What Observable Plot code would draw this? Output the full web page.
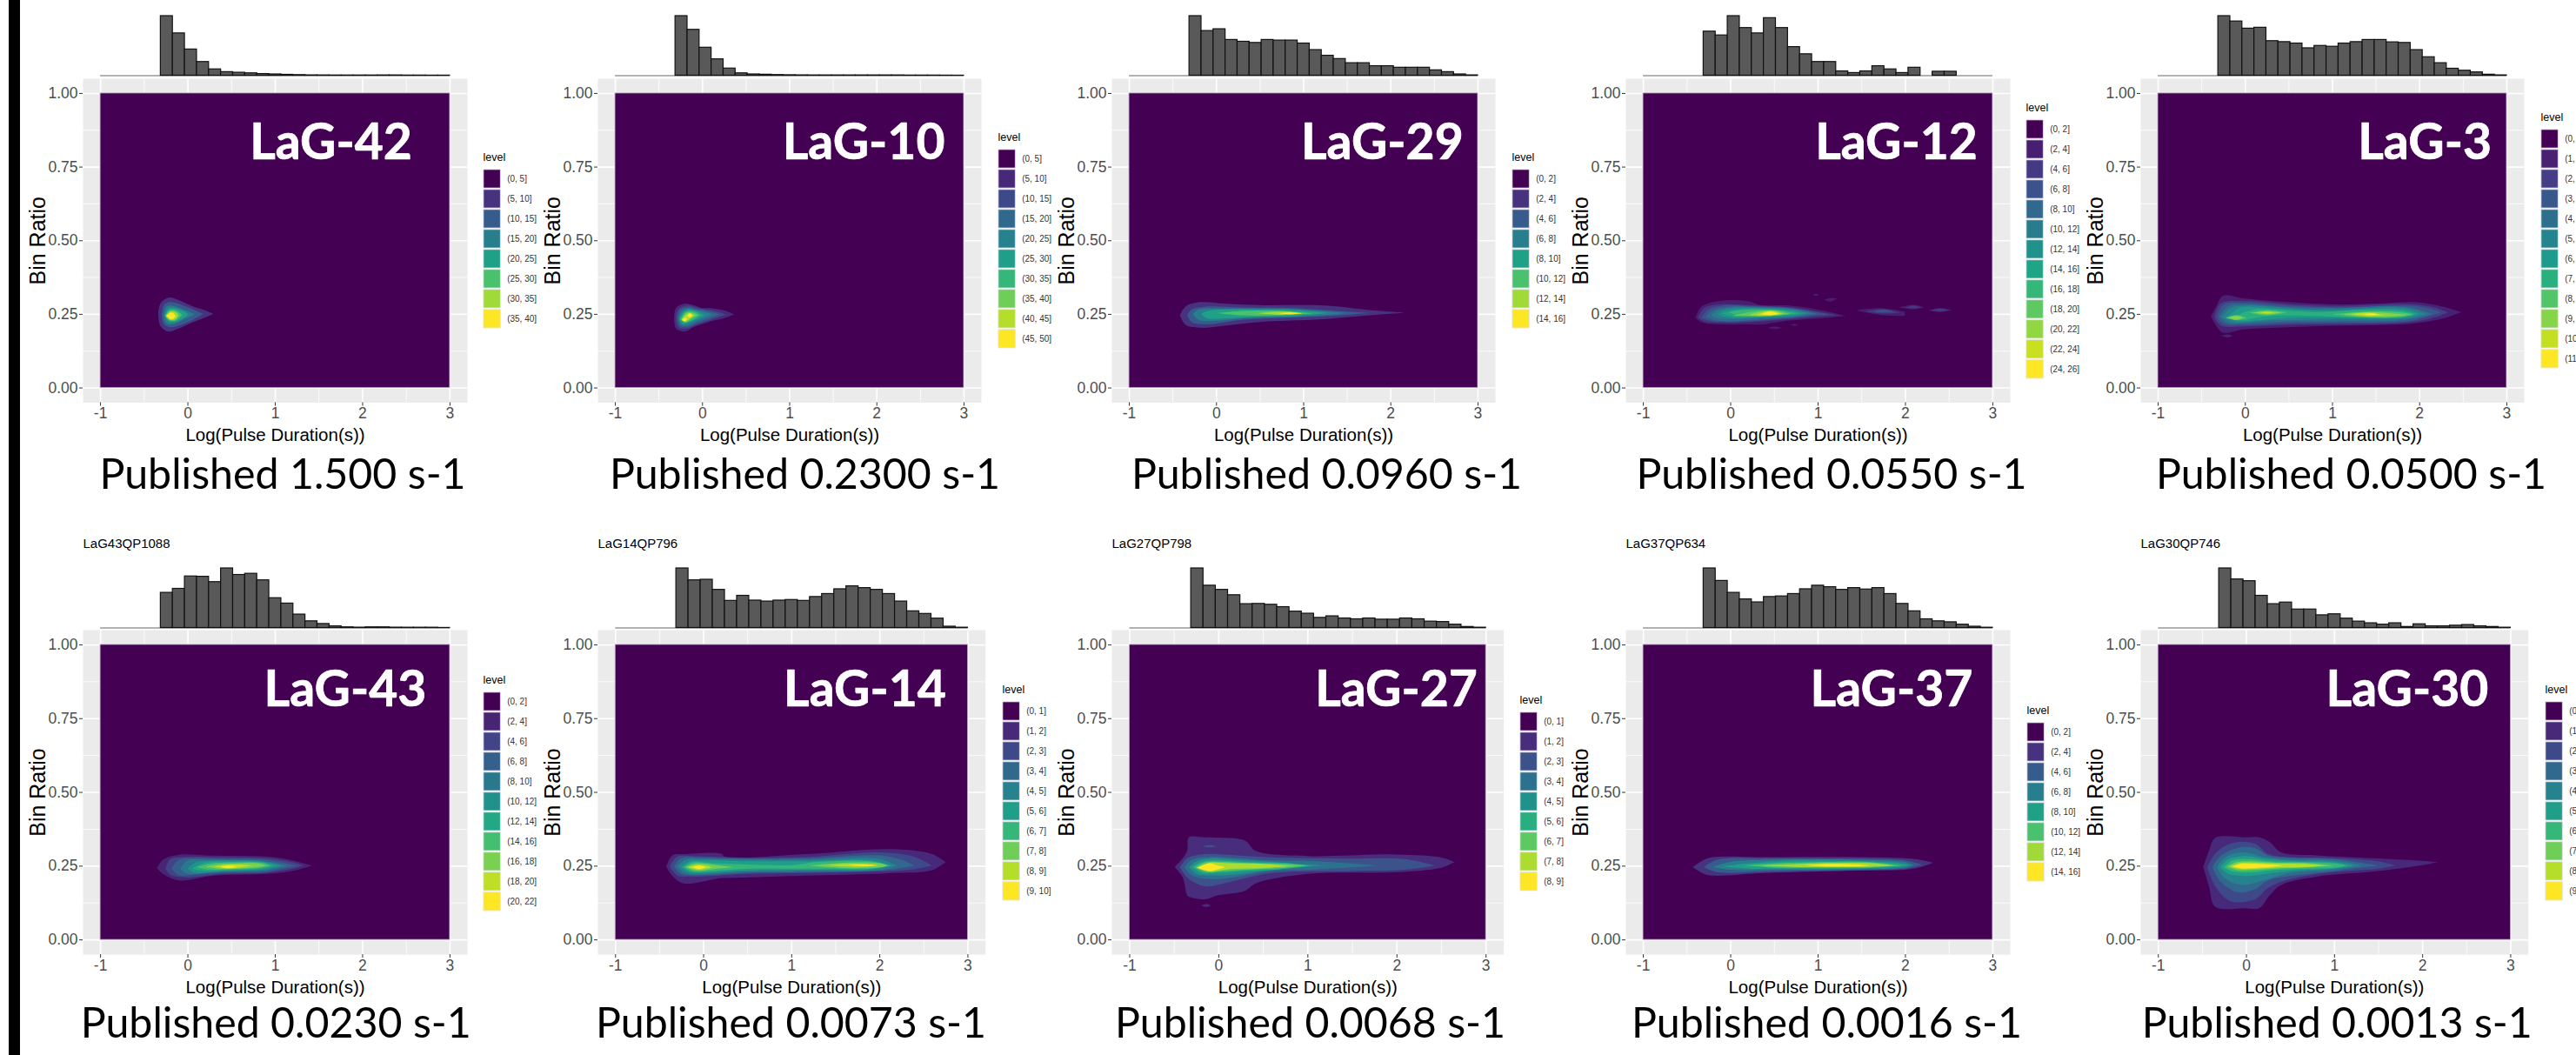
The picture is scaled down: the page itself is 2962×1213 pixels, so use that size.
<!DOCTYPE html>
<html>
<head>
<meta charset="utf-8">
<script src="https://cdn.jsdelivr.net/npm/d3@7"></script>
<script src="https://cdn.jsdelivr.net/npm/@observablehq/plot@0.6"></script>
<style>
html,body{margin:0;padding:0;background:#fff;overflow:hidden}
#stage{position:relative;width:2962px;height:1213px;overflow:hidden;background:#fff}
#bar{position:absolute;left:10px;top:0;width:12.5px;height:1213px;background:#000}
.box{position:absolute}
</style>
</head>
<body>
<div id="stage"><div id="bar"></div></div>
<script>
// ---------- values ----------
const names = ["LaG-42","LaG-10","LaG-29","LaG-12","LaG-3","LaG-43","LaG-14","LaG-27","LaG-37","LaG-30"];
const published = ["Published 1.500 s-1","Published 0.2300 s-1","Published 0.0960 s-1","Published 0.0550 s-1","Published 0.0500 s-1",
  "Published 0.0230 s-1","Published 0.0073 s-1","Published 0.0068 s-1","Published 0.0016 s-1","Published 0.0013 s-1"];
const sampleIds = [null,null,null,null,null,"LaG43QP1088","LaG14QP796","LaG27QP798","LaG37QP634","LaG30QP746"];
const levelStep = [5,5,2,2,1,2,1,1,2,1];
const levelCount = [8,10,8,13,12,11,10,9,8,10];
const xMajor = [-1,0,1,2,3];
const xMinor = [-0.5,0.5,1.5,2.5];
const yMajor = [0,0.25,0.5,0.75,1];
const yMinor = [0.125,0.375,0.625,0.875];

// relative bar height of the marginal histograms, first bar begins at the sixth of 29 bins
const hist42 = [100,71,44,23,10.6,6,5,4,2.8,2.2,1.5,1,.6,.5,.4,.4,.4,.4,.5,.5,.3,.3,.2,.2];
const hist10 = [100,77,47,27.5,12,4,2.2,1.7,1.1,.8,.6,.5,.5,.5,.5,.5,.5,.5,.5,.3,.3,.3,.2,.1];
const hist29 = [100,75,78,60,57,55,60,59,59,54,43,33.5,28,21,21,16,16,13.4,13.4,13.4,9,6,2.2,.6];
const hist12 = [74,67.6,100,80,71,96.6,80,48,36,23,23,7.3,4.5,7.3,16,10.6,4.5,13.4,0,6.7,6.7,0,0,0];
const hist3  = [100,91,79,80.5,58,56.4,54,46,50,48.6,54,56.4,60,60,56,55,43,31,21,11.7,8.4,5.6,1.7,.6];
const hist43 = [59,65.7,86.5,86,77,100,89,91,80,50,41,22.5,11.2,6.7,2.8,1.1,.6,1.1,1.1,.6,.5,.5,.5,.1];
const hist14 = [100,80,81,64,45.5,54,46,44.4,46,47,45.5,52,57,65,70,67,64,57,44.4,28,23.6,15.7,2.2,.5];
const hist27 = [100,71,64,55,40,40.4,39,35,27.5,24,17,19.6,16,14.6,16,14,14,16,14.6,10.7,10,5.6,1.7,.5];
const hist37 = [100,79,59,48,43,52,53,57,65,71,68.5,64,67,64.6,67,57,40.4,28,14.6,11.2,9.6,5.6,2.2,.5];
const hist30 = [100,81.5,78.6,54,40,42.7,31,31,21.3,23,15.7,10.7,7.9,5.6,7.9,1.7,6.2,2.8,2.8,3.9,5,2.8,1.7,.5];

// density level outlines: [level band, [[x, lower ratio, upper ratio], ...]]
const density42 = [
 [1,[[-.335,.25,.25],[-.31,.21,.285],[-.22,.19,.305],[-.1,.2,.297],[.05,.22,.277],[.2,.238,.262],[.295,.25,.25]]],
 [2,[[-.294,.245,.245],[-.27,.215,.28],[-.2,.205,.29],[-.08,.212,.282],[.06,.23,.265],[.18,.25,.25]]],
 [3,[[-.274,.245,.245],[-.24,.218,.274],[-.17,.215,.277],[-.05,.23,.265],[.08,.248,.248]]],
 [4,[[-.26,.245,.245],[-.22,.225,.267],[-.15,.222,.27],[-.05,.235,.26],[.007,.248,.248]]],
 [5,[[-.254,.243,.243],[-.21,.228,.262],[-.14,.227,.263],[-.06,.247,.247]]],
 [6,[[-.248,.243,.243],[-.2,.23,.258],[-.14,.231,.257],[-.1,.245,.245]]],
 [7,[[-.24,.243,.243],[-.19,.232,.255],[-.16,.234,.252],[-.135,.243,.243]]]];
const density10 = [
 [1,[[-.32,.235,.235],[-.3,.2,.27],[-.2,.19,.285],[-.1,.205,.28],[0,.215,.27],[.1,.225,.27],[.25,.235,.262],[.37,.248,.248]]],
 [2,[[-.3,.235,.235],[-.27,.205,.265],[-.18,.2,.278],[-.05,.215,.27],[.1,.23,.263],[.28,.248,.248]]],
 [3,[[-.28,.235,.235],[-.25,.21,.262],[-.17,.207,.272],[-.05,.222,.265],[.08,.235,.258],[.2,.248,.248]]],
 [4,[[-.27,.235,.235],[-.23,.213,.258],[-.16,.213,.268],[-.05,.228,.262],[.05,.24,.255],[.12,.248,.248]]],
 [5,[[-.26,.232,.232],[-.22,.216,.255],[-.15,.222,.265],[-.05,.234,.258],[.03,.246,.246]]],
 [6,[[-.25,.232,.232],[-.2,.22,.255],[-.13,.226,.26],[-.06,.237,.255],[-.02,.245,.245]]],
 [7,[[-.24,.23,.23],[-.19,.222,.252],[-.13,.232,.256],[-.07,.242,.25],[-.05,.245,.245]]],
 [8,[[-.23,.228,.228],[-.19,.225,.245],[-.14,.235,.253],[-.09,.245,.245]]],
 [9,[[-.23,.23,.23],[-.2,.225,.237],[-.17,.232,.232]]],
 [9,[[-.17,.243,.243],[-.14,.238,.252],[-.11,.245,.245]]]];
const density29 = [
 [1,[[-.415,.245,.245],[-.35,.213,.275],[-.18,.203,.29],[.1,.21,.285],[.47,.222,.28],[1.28,.233,.278],[1.77,.245,.263],[2.175,.254,.254]]],
 [2,[[-.33,.245,.245],[-.28,.222,.265],[-.1,.215,.275],[.3,.23,.272],[.9,.238,.27],[1.3,.243,.262],[1.75,.253,.253]]],
 [3,[[-.265,.248,.248],[-.2,.23,.265],[0,.227,.268],[.4,.237,.268],[.9,.24,.266],[1.2,.245,.26],[1.48,.253,.253]]],
 [4,[[-.17,.25,.25],[-.1,.235,.26],[.1,.235,.265],[.5,.24,.265],[.9,.243,.263],[1.28,.253,.253]]],
 [5,[[.02,.253,.253],[.3,.245,.26],[.7,.245,.261],[1.12,.252,.252]]],
 [6,[[.47,.252,.252],[.7,.247,.258],[.85,.248,.257],[1.0,.252,.252]]],
 [7,[[.72,.252,.252],[.85,.249,.255],[.98,.252,.252]]]];
const density12 = [
 [1,[[-.4,.237,.237],[-.33,.222,.275],[-.1,.214,.295],[.2,.214,.293],[.35,.214,.28],[.7,.228,.278],[1.05,.235,.262],[1.32,.243,.243]]],
 [1,[[1.44,.262,.262],[1.7,.247,.27],[2.0,.243,.258]]],
 [1,[[1.93,.272,.272],[2.1,.266,.281],[2.22,.272,.272]]],
 [1,[[2.26,.262,.262],[2.4,.256,.27],[2.54,.263,.263]]],
 [1,[[.94,.315,.315],[.98,.312,.319],[1.02,.315,.315]]],
 [1,[[1.08,.298,.298],[1.15,.292,.304],[1.22,.302,.302]]],
 [1,[[.43,.203,.203],[.51,.199,.207],[.59,.203,.203]]],
 [1,[[.69,.213,.213],[.73,.21,.216],[.78,.213,.213]]],
 [2,[[1.55,.258,.258],[1.75,.251,.267],[1.95,.254,.254]]],
 [2,[[2.0,.272,.272],[2.1,.269,.278],[2.18,.272,.272]]],
 [2,[[2.3,.263,.263],[2.4,.259,.268],[2.5,.263,.263]]],
 [3,[[1.63,.258,.258],[1.75,.255,.264],[1.88,.257,.257]]],
 [2,[[-.37,.237,.237],[-.3,.225,.27],[-.1,.22,.283],[.2,.222,.28],[.7,.232,.272],[1.0,.24,.258],[1.25,.245,.245]]],
 [3,[[-.33,.237,.237],[-.25,.228,.265],[-.05,.222,.28],[.2,.225,.277],[.7,.236,.27],[1.0,.245,.256],[1.15,.248,.248]]],
 [4,[[-.28,.24,.24],[-.2,.23,.263],[0,.225,.275],[.3,.23,.274],[.7,.238,.268],[1.0,.25,.25]]],
 [5,[[-.22,.245,.245],[-.15,.235,.262],[0,.232,.272],[.3,.235,.272],[.7,.24,.266],[.95,.252,.252]]],
 [6,[[-.15,.25,.25],[-.08,.24,.262],[.05,.236,.268],[.3,.237,.27],[.7,.243,.263],[.88,.252,.252]]],
 [7,[[-.1,.252,.252],[.05,.24,.264],[.3,.24,.267],[.6,.245,.263],[.82,.252,.252]]],
 [8,[[-.02,.255,.255],[.1,.245,.262],[.3,.24,.265],[.55,.245,.262],[.75,.252,.252]]],
 [9,[[.02,.243,.243],[.25,.243,.258],[.5,.244,.262],[.68,.25,.25]]],
 [10,[[.2,.245,.245],[.35,.243,.258],[.5,.246,.26],[.62,.25,.25]]],
 [11,[[.3,.247,.247],[.42,.245,.258],[.5,.247,.258],[.58,.25,.25]]],
 [12,[[.36,.25,.25],[.44,.246,.257],[.5,.247,.256],[.55,.25,.25]]]];
const density3 = [
 [1,[[-.27,.175,.175],[-.2,.17,.18],[-.14,.175,.175]]],
 [1,[[-.39,.242,.242],[-.33,.21,.275],[-.25,.186,.312],[0,.198,.302],[.5,.205,.29],[1.05,.21,.282],[1.5,.212,.285],[1.95,.218,.29],[2.28,.235,.274],[2.48,.256,.256]]],
 [2,[[-.35,.24,.24],[-.28,.21,.285],[0,.208,.295],[.5,.213,.283],[1.05,.215,.277],[1.9,.222,.283],[2.2,.24,.27],[2.33,.255,.255]]],
 [3,[[-.32,.24,.24],[-.25,.215,.28],[0,.213,.288],[.5,.218,.278],[1.05,.22,.272],[1.9,.226,.278],[2.12,.243,.268],[2.25,.255,.255]]],
 [4,[[-.29,.24,.24],[-.2,.218,.275],[0,.218,.283],[.5,.224,.273],[1.05,.225,.27],[1.85,.23,.274],[2.15,.25,.25]]],
 [5,[[-.26,.24,.24],[-.15,.222,.272],[0,.222,.278],[.3,.228,.275],[.7,.23,.265],[1.05,.232,.265],[1.85,.234,.27],[2.08,.25,.25]]],
 [6,[[-.2,.24,.24],[-.05,.225,.272],[.15,.228,.272],[.5,.236,.266],[1.0,.238,.26],[1.4,.236,.266],[1.85,.238,.264],[2.0,.25,.25]]],
 [7,[[-.15,.235,.235],[-.05,.228,.25],[.1,.235,.265],[.3,.243,.265],[.8,.243,.256],[1.3,.238,.263],[1.8,.24,.26],[1.95,.25,.25]]],
 [8,[[-.22,.237,.237],[-.1,.228,.246],[.02,.237,.237]]],
 [8,[[.05,.254,.254],[.25,.245,.262],[.48,.254,.254]]],
 [8,[[1.0,.249,.249],[1.4,.238,.258],[1.8,.24,.255],[1.93,.248,.248]]],
 [9,[[-.18,.237,.237],[-.1,.231,.243],[-.02,.237,.237]]],
 [9,[[.1,.254,.254],[.25,.249,.259],[.42,.254,.254]]],
 [9,[[1.12,.249,.249],[1.42,.241,.256],[1.7,.243,.251],[1.85,.247,.247]]],
 [10,[[.18,.254,.254],[.25,.251,.257],[.33,.254,.254]]],
 [10,[[1.22,.249,.249],[1.42,.243,.254],[1.6,.246,.246]]],
 [11,[[1.35,.248,.248],[1.45,.245,.252],[1.55,.248,.248]]]];
const density43 = [
 [1,[[-.35,.242,.242],[-.28,.222,.27],[-.1,.2,.287],[.3,.216,.284],[.9,.222,.281],[1.2,.232,.268],[1.43,.25,.25]]],
 [2,[[-.25,.24,.24],[-.2,.22,.272],[0,.21,.28],[.4,.222,.278],[.9,.226,.275],[1.2,.24,.262],[1.33,.25,.25]]],
 [3,[[-.18,.24,.24],[-.1,.218,.27],[.1,.22,.275],[.4,.226,.273],[.9,.23,.27],[1.25,.25,.25]]],
 [4,[[-.08,.24,.24],[0,.222,.268],[.2,.225,.27],[.5,.23,.27],[.9,.234,.265],[1.15,.25,.25]]],
 [5,[[0,.24,.24],[.1,.226,.262],[.3,.23,.267],[.7,.234,.267],[.9,.238,.262],[1.08,.25,.25]]],
 [6,[[.05,.24,.24],[.2,.232,.26],[.5,.235,.264],[.85,.24,.262],[1.0,.25,.25]]],
 [7,[[.1,.245,.245],[.25,.237,.257],[.5,.238,.261],[.85,.243,.26],[.95,.25,.25]]],
 [8,[[.2,.247,.247],[.35,.24,.255],[.55,.24,.258],[.8,.245,.258],[.9,.25,.25]]],
 [9,[[.3,.247,.247],[.45,.241,.253],[.6,.244,.254],[.75,.25,.25]]],
 [10,[[.38,.247,.247],[.48,.242,.25],[.56,.247,.247]]]];
const density14 = [
 [1,[[-.42,.247,.247],[-.35,.215,.285],[-.22,.19,.289],[.2,.208,.291],[.25,.208,.28],[1.16,.216,.289],[2.15,.225,.306],[2.6,.235,.289],[2.75,.262,.262]]],
 [2,[[-.38,.247,.247],[-.3,.218,.28],[-.1,.213,.282],[.5,.222,.277],[1.2,.225,.28],[2.0,.23,.295],[2.4,.238,.28],[2.6,.25,.25]]],
 [3,[[-.33,.247,.247],[-.25,.222,.275],[0,.218,.277],[.5,.226,.273],[1.2,.228,.275],[2.0,.233,.285],[2.25,.242,.27],[2.4,.25,.25]]],
 [4,[[-.29,.247,.247],[-.2,.225,.27],[0,.222,.272],[.5,.23,.27],[1.2,.232,.27],[2.0,.236,.273],[2.2,.25,.25]]],
 [5,[[-.25,.245,.245],[-.15,.228,.265],[.05,.227,.267],[.5,.234,.265],[1.2,.236,.265],[1.9,.238,.268],[2.15,.25,.25]]],
 [6,[[-.22,.245,.245],[-.12,.23,.262],[.1,.232,.258],[.5,.24,.254],[1.0,.24,.252],[1.3,.24,.263],[1.9,.24,.265],[2.12,.25,.25]]],
 [7,[[-.2,.245,.245],[-.08,.233,.258],[.15,.24,.252],[.35,.245,.245]]],
 [7,[[1.2,.25,.25],[1.6,.242,.26],[2.0,.244,.258],[2.1,.25,.25]]],
 [8,[[-.17,.245,.245],[-.05,.236,.254],[.1,.245,.245]]],
 [8,[[1.4,.252,.252],[1.75,.246,.257],[2.0,.25,.25]]],
 [9,[[-.12,.245,.245],[-.05,.239,.25],[.03,.245,.245]]],
 [9,[[1.65,.252,.252],[1.85,.249,.255],[1.97,.252,.252]]]];
const density27 = [
 [1,[[-.2,.115,.115],[-.13,.11,.12],[-.08,.115,.115]]],
 [1,[[-.49,.245,.245],[-.4,.21,.275],[-.35,.15,.3],[-.33,.145,.346],[-.15,.136,.346],[0,.15,.345],[.3,.165,.335],[.42,.19,.3],[1.0,.222,.283],[2.0,.228,.288],[2.5,.243,.278],[2.65,.262,.262]]],
 [2,[[-.18,.316,.316],[-.1,.312,.32],[-.02,.316,.316]]],
 [2,[[-.43,.245,.245],[-.35,.21,.275],[-.15,.18,.289],[.1,.193,.287],[.6,.225,.278],[1.5,.232,.274],[2.1,.236,.272],[2.43,.25,.25]]],
 [3,[[-.38,.245,.245],[-.3,.218,.27],[-.1,.205,.28],[.15,.21,.277],[.6,.232,.268],[1.1,.237,.265],[1.8,.25,.25]]],
 [4,[[-.33,.245,.245],[-.24,.222,.266],[-.05,.217,.275],[.2,.22,.27],[.6,.236,.263],[1.2,.25,.25]]],
 [5,[[-.29,.245,.245],[-.18,.226,.264],[0,.226,.268],[.3,.232,.263],[.7,.238,.26],[1.05,.25,.25]]],
 [6,[[-.26,.245,.245],[-.14,.229,.262],[.05,.232,.263],[.4,.238,.258],[.75,.243,.256],[1.0,.25,.25]]],
 [7,[[-.245,.243,.243],[-.1,.23,.26],[.1,.238,.258],[.5,.242,.256],[.8,.249,.249]]],
 [8,[[-.23,.243,.243],[-.1,.232,.258],[-.02,.237,.252],[.08,.245,.245]]]];
const density37 = [
 [1,[[-.43,.245,.245],[-.3,.222,.27],[-.2,.216,.279],[.4,.225,.279],[1.45,.233,.279],[2.1,.24,.273],[2.32,.26,.26]]],
 [2,[[-.3,.245,.245],[-.15,.228,.27],[.4,.23,.275],[1.4,.235,.274],[2.0,.24,.268],[2.2,.253,.253]]],
 [3,[[-.2,.245,.245],[0,.236,.263],[.5,.236,.27],[1.4,.238,.27],[2.0,.244,.262],[2.1,.252,.252]]],
 [4,[[-.1,.247,.247],[.2,.24,.258],[.6,.24,.266],[1.4,.24,.266],[1.9,.245,.26],[2.05,.252,.252]]],
 [5,[[.15,.25,.25],[.5,.244,.258],[1.0,.243,.262],[1.6,.244,.262],[1.97,.25,.25]]],
 [6,[[.3,.25,.25],[.7,.246,.255],[1.1,.245,.259],[1.6,.246,.259],[1.88,.25,.25]]],
 [7,[[.85,.251,.251],[1.15,.247,.256],[1.45,.248,.254],[1.6,.251,.251]]]];
const density30 = [
 [1,[[-.485,.245,.245],[-.42,.18,.3],[-.35,.111,.344],[0,.106,.346],[.15,.106,.346],[.27,.15,.33],[.4,.185,.295],[.8,.213,.285],[1.45,.23,.275],[1.97,.25,.267],[2.18,.262,.262]]],
 [2,[[-.44,.245,.245],[-.35,.18,.29],[-.18,.13,.325],[.1,.135,.325],[.25,.175,.29],[.45,.2,.28],[.9,.225,.277],[1.5,.24,.265],[1.7,.25,.25]]],
 [3,[[-.38,.245,.245],[-.3,.2,.28],[-.1,.16,.31],[.1,.17,.31],[.25,.2,.285],[.5,.215,.277],[1.0,.232,.272],[1.5,.25,.25]]],
 [4,[[-.33,.245,.245],[-.25,.21,.275],[-.05,.185,.295],[.2,.2,.28],[.5,.225,.27],[1.0,.237,.267],[1.32,.25,.25]]],
 [5,[[-.29,.245,.245],[-.2,.222,.272],[0,.215,.283],[.25,.223,.272],[.6,.235,.265],[1.0,.24,.262],[1.22,.25,.25]]],
 [6,[[-.25,.245,.245],[-.15,.23,.268],[.05,.227,.272],[.3,.235,.264],[.7,.24,.262],[1.0,.243,.258],[1.15,.25,.25]]],
 [7,[[-.22,.247,.247],[-.1,.235,.263],[.05,.235,.265],[.35,.24,.26],[.7,.244,.259],[1.0,.25,.25]]],
 [8,[[-.18,.247,.247],[-.08,.239,.259],[.1,.239,.26],[.4,.244,.257],[.65,.245,.256],[.9,.25,.25]]],
 [9,[[-.15,.247,.247],[-.05,.241,.256],[.1,.242,.256],[.25,.245,.254],[.42,.25,.25]]]];

const histograms = [hist42,hist10,hist29,hist12,hist3,hist43,hist14,hist27,hist37,hist30];
const densities = [density42,density10,density29,density12,density3,density43,density14,density27,density37,density30];

// ---------- page layout (pixels), kept apart from the data ----------
const panelLeft  = [95,687,1278,1869,2461,95,687,1278,1869,2461];
const panelRight = [537,1128,1719,2311,2902,537,1132.7,1728.7,2311,2906.7];
const rows = [
  {histTop:17.6, histBase:86.1, top:89.5, bottom:462, nameBase:181.8, pubBase:560.6},
  {histTop:652.7, histBase:721.2, top:724.2, bottom:1097.3, nameBase:811.9, pubBase:1192.7}
];
const nameCenter = [380,992.6,1588.8,2180,2787.6,396.4,993.9,1605,2174.4,2767.4];
const pubCenter  = [324.5,925,1525,2105.5,2703,316.7,909,1506,2100,2686.7];
const legendLeft = [556,1147.8,1738.8,2330,2921.5,556,1152.6,1748,2330.5,2926.8];
const legendTop  = [195.3,172.2,195,137.8,148.9,795.8,807.3,818.8,830.4,807.3];
const legendPitch = 23.05, legendKey = 19.4;
const marginL = 62, marginB = 60;

const sansFont = "'Liberation Sans', Arial, sans-serif";
const stage = document.getElementById("stage");
function place(node, left, top) {
  const d = document.createElement("div");
  d.className = "box";
  d.style.left = left + "px";
  d.style.top = top + "px";
  d.appendChild(node);
  stage.appendChild(d);
}
const svgStyle = {background:"transparent", overflow:"visible", maxWidth:"none", fontFamily:sansFont};

names.forEach((name, p) => {
  const row = rows[p < 5 ? 0 : 1];
  const gl = panelLeft[p], gr = panelRight[p], gw = gr - gl, gh = row.bottom - row.top;
  const n = levelCount[p], colors = d3.quantize(d3.interpolateViridis, n);

  // marginal histogram
  const binW = 4/29, first = -1 + 5*binW;
  const bars = histograms[p].map((h,i) => ({x1:first+i*binW, x2:first+(i+1)*binW, h})).filter(d => d.h > 0);
  place(Plot.plot({
    width:gw, height:row.histBase-row.histTop,
    marginLeft:0, marginRight:0, marginTop:0, marginBottom:0,
    style:svgStyle,
    x:{domain:[-1.2,3.2], axis:null},
    y:{domain:[0,100], axis:null},
    marks:[
      Plot.ruleY([0],{x1:()=>-1, x2:()=>3, stroke:"#666", strokeWidth:1.2}),
      Plot.rect(bars,{x1:"x1", x2:"x2", y1:()=>0, y2:"h", fill:"#595959", stroke:"#111", strokeWidth:1.2})
    ]
  }), gl, row.histTop);

  // density panel
  const outlines = densities[p].flatMap(([band, pts], id) => pts.map(([x,lo,hi]) => ({id, band, x, lo, hi})));
  const main = Plot.plot({
    width:gw+marginL, height:gh+marginB,
    marginLeft:marginL, marginRight:0, marginTop:0, marginBottom:marginB,
    style:svgStyle,
    x:{domain:[-1.2,3.2]},
    y:{domain:[-0.05,1.05]},
    color:{type:"ordinal", domain:d3.range(n), range:colors},
    marks:[
      Plot.frame({fill:"#ebebeb", stroke:null}),
      Plot.ruleX(xMinor,{stroke:"#fff", strokeWidth:.8}),
      Plot.ruleY(yMinor,{stroke:"#fff", strokeWidth:.8}),
      Plot.ruleX(xMajor,{stroke:"#fff", strokeWidth:1.6}),
      Plot.ruleY(yMajor,{stroke:"#fff", strokeWidth:1.6}),
      Plot.rect([0],{x1:()=>-1, x2:()=>3, y1:()=>0, y2:()=>1, fill:()=>0, stroke:"#b9a3c4", strokeWidth:.8}),
      Plot.areaY(outlines,{x:"x", y1:"lo", y2:"hi", z:"id", fill:"band", curve:"catmull-rom"}),
      Plot.axisX({ticks:xMajor, tickFormat:d=>String(d), tickSize:4, tickPadding:2, fontSize:17.5, fill:"#4d4d4d", stroke:"#333", label:null}),
      Plot.axisY({ticks:yMajor, tickFormat:d3.format(".2f"), tickSize:4, tickPadding:2, fontSize:17.5, fill:"#4d4d4d", stroke:"#333", label:null}),
      Plot.text([name],{frameAnchor:"top-left", dx:nameCenter[p]-gl, dy:row.nameBase-row.top, textAnchor:"middle", lineAnchor:"bottom",
        fontFamily:"Lato", fontWeight:700, fontSize:57, fill:"#fff", stroke:"#fff", strokeWidth:.7}),
      Plot.text(["Log(Pulse Duration(s))"],{frameAnchor:"top-left", dx:gw/2, dy:gh+37.5, textAnchor:"middle", lineAnchor:"middle", fontSize:20.5, fill:"#000"}),
      Plot.text(["Bin Ratio"],{frameAnchor:"top-left", dx:-52, dy:gh/2, rotate:-90, textAnchor:"middle", lineAnchor:"middle", fontSize:25, fill:"#000"}),
      Plot.text([published[p]],{frameAnchor:"top-left", dx:pubCenter[p]-gl, dy:row.pubBase-row.top, textAnchor:"middle", lineAnchor:"bottom",
        fontFamily:"Lato", fontSize:48.3, fill:"#000"})
    ].concat(sampleIds[p] ? [
      Plot.text([sampleIds[p]],{frameAnchor:"top-left", dy:625-row.top, textAnchor:"start", lineAnchor:"middle", fontSize:15, fill:"#000"})
    ] : [])
  });
  place(main, gl-marginL, row.top);

  // legend
  const labels = d3.range(n).map(i => `(${i*levelStep[p]}, ${(i+1)*levelStep[p]}]`);
  place(Plot.plot({
    width:legendKey+1.8, height:n*legendPitch,
    marginLeft:0, marginRight:0, marginTop:0, marginBottom:0,
    style:svgStyle,
    x:{axis:null},
    y:{type:"band", domain:labels, padding:0, axis:null},
    color:{type:"ordinal", domain:labels, range:colors},
    marks:[
      Plot.cell(labels,{y:d=>d, fill:d=>d, stroke:"#e4e0e8", strokeWidth:.8, inset:.9}),
      Plot.text(labels,{y:d=>d, text:d=>d, frameAnchor:"right", dx:6.5, textAnchor:"start", fontSize:10, fill:"#333"}),
      Plot.text(["level"],{frameAnchor:"top-left", dy:-14, textAnchor:"start", lineAnchor:"middle", fontSize:12.5, fill:"#000"})
    ]
  }), legendLeft[p]-.9, legendTop[p]-.9);
});
</script>
</body>
</html>
